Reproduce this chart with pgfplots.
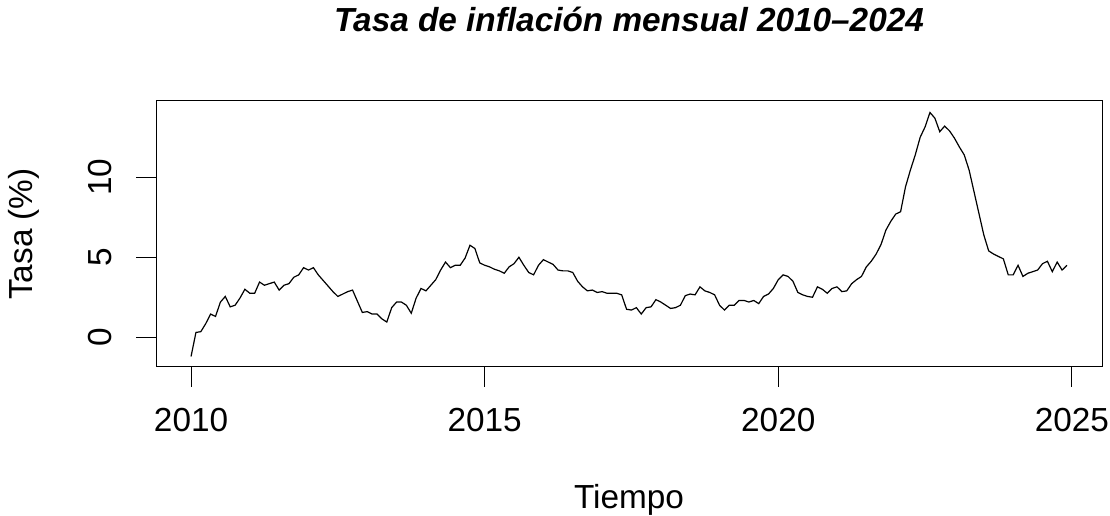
\documentclass[border=0pt]{standalone}
\usepackage{pgfplots}
\pgfplotsset{compat=1.18}
\usepackage{pgfplotstable}
\usepackage{fontspec}
\setmainfont{Liberation Sans}
\pgfplotstableread{
m v
0 -1.2
1 0.3
2 0.35
3 0.85
4 1.45
5 1.3
6 2.2
7 2.55
8 1.9
9 2.0
10 2.45
11 3.0
12 2.75
13 2.75
14 3.45
15 3.25
16 3.35
17 3.45
18 2.95
19 3.25
20 3.35
21 3.75
22 3.9
23 4.35
24 4.2
25 4.35
26 3.9
27 3.55
28 3.2
29 2.85
30 2.55
31 2.7
32 2.85
33 2.95
34 2.25
35 1.55
36 1.6
37 1.45
38 1.45
39 1.15
40 0.95
41 1.85
42 2.2
43 2.2
44 2.0
45 1.5
46 2.45
47 3.05
48 2.9
49 3.25
50 3.6
51 4.2
52 4.7
53 4.35
54 4.5
55 4.5
56 4.95
57 5.75
58 5.55
59 4.65
60 4.5
61 4.4
62 4.25
63 4.15
64 4.0
65 4.4
66 4.6
67 5.0
68 4.5
69 4.05
70 3.9
71 4.5
72 4.85
73 4.7
74 4.55
75 4.2
76 4.15
77 4.15
78 4.05
79 3.5
80 3.15
81 2.9
82 2.95
83 2.8
84 2.85
85 2.75
86 2.75
87 2.75
88 2.65
89 1.75
90 1.7
91 1.85
92 1.45
93 1.85
94 1.9
95 2.35
96 2.2
97 2.0
98 1.8
99 1.85
100 2.0
101 2.6
102 2.7
103 2.65
104 3.15
105 2.9
106 2.8
107 2.65
108 2.0
109 1.7
110 2.0
111 2.0
112 2.3
113 2.3
114 2.2
115 2.3
116 2.1
117 2.55
118 2.7
119 3.05
120 3.6
121 3.9
122 3.8
123 3.5
124 2.8
125 2.65
126 2.55
127 2.5
128 3.15
129 3.0
130 2.75
131 3.05
132 3.15
133 2.85
134 2.9
135 3.35
136 3.6
137 3.8
138 4.4
139 4.75
140 5.2
141 5.8
142 6.7
143 7.25
144 7.7
145 7.85
146 9.4
147 10.45
148 11.4
149 12.5
150 13.15
151 14.05
152 13.7
153 12.85
154 13.2
155 12.9
156 12.45
157 11.9
158 11.4
159 10.45
160 9.1
161 7.75
162 6.4
163 5.4
164 5.2
165 5.05
166 4.9
167 3.9
168 3.9
169 4.5
170 3.8
171 4.0
172 4.1
173 4.2
174 4.6
175 4.75
176 4.1
177 4.7
178 4.2
179 4.5
}\inflation
\begin{document}
\begin{tikzpicture}
\path[use as bounding box] (0,0) rectangle (832.5pt,387pt);
\begin{axis}[
  at={(117pt,111.75pt)}, anchor=south west,
  scale only axis, width=709.5pt, height=199.5pt,
  xmin=2009.403, xmax=2025.513, ymin=-1.86, ymax=14.77,
  xtick={2010,2015,2020,2025}, ytick={0,5,10},
  xticklabels={2010,2015,2020,2025}, yticklabels={0,5,10},
  xtick pos=bottom, ytick pos=left,
  tick align=outside, major tick length=15pt,
  tick style={black, line width=0.75pt},
  axis line style={black, line width=0.75pt},
  ticklabel style={font=\fontsize{25}{28}\selectfont, inner sep=0pt},
  xticklabel style={anchor=base},
  xticklabel shift=33.5pt,
  yticklabel style={rotate=90, anchor=south},
  yticklabel shift=18pt,
  title={\bfseries\itshape Tasa de inflación mensual 2010--2024},
  title style={at={(axis description cs:0.5,1.2293)}, anchor=base, font=\fontsize{25}{28}\selectfont, inner sep=0pt},
  xlabel={Tiempo},
  xlabel style={at={(axis description cs:0.5,-0.5338)}, anchor=base, font=\fontsize{25}{28}\selectfont, inner sep=0pt},
  ylabel={Tasa (\%)},
  ylabel style={at={(axis description cs:-0.1395,0.5)}, anchor=center, rotate=0, font=\fontsize{25}{28}\selectfont, inner sep=0pt},
  clip=false,
]
\addplot[black, line width=0.9pt, no markers] table[x expr=2010+\thisrow{m}/12, y=v] {\inflation};
\end{axis}
\end{tikzpicture}
\end{document}
